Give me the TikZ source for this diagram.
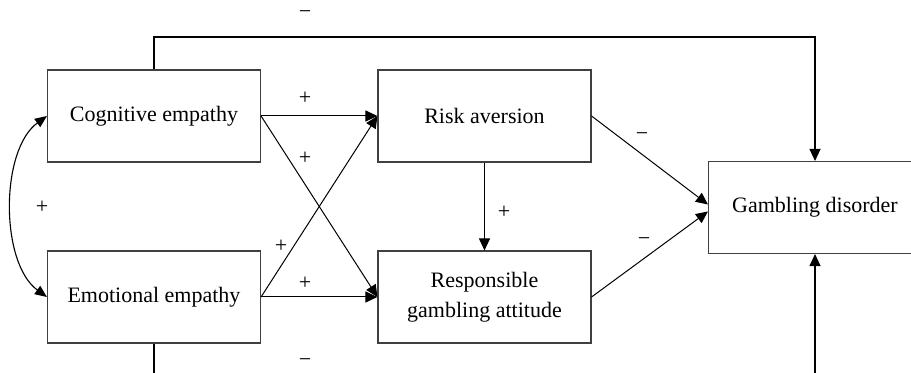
\documentclass[tikz,border=0pt]{standalone}
\usepackage{fontspec}
\setmainfont{Liberation Serif}
\usetikzlibrary{positioning,arrows.meta}

\begin{document}
\begin{tikzpicture}[
    x=0.5pt, y=-0.5pt,
    box/.style={rectangle, draw=black!75, line width=0.55pt, minimum width=106.5pt,
        minimum height=46pt, text centered, align=center,
        font=\fontsize{11}{15}\selectfont},
    sign/.style={inner sep=0pt, font=\fontsize{11}{13}\selectfont},
    path/.style={draw, line width=0.5pt, -{Triangle[length=6pt,width=5.5pt]}},
    link/.style={draw, line width=0.55pt}
]
\useasboundingbox (0,0) rectangle (911,373);

% boxes
\node [box] (cog) at (154,116) {Cognitive empathy};
\node [box] (emo) at (154,297) {Emotional empathy};
\node [box] (risk) at (484.5,116) {Risk aversion};
\node [box] (resp) at (484.5,297) {Responsible\\gambling attitude};
\node [box] (gd) at (815,207.5) {Gambling disorder};

% paths
\draw [path] (cog.east) -- (risk.west);
\draw [path] (cog.east) -- (resp.west);
\draw [path] (emo.east) -- (risk.west);
\draw [path] (emo.east) -- (resp.west);
\draw [path] (risk.south) -- (resp.north);
\draw [path] (risk.east) -- ([yshift=1.5pt]gd.west);
\draw [path] (resp.east) -- ([yshift=-2pt]gd.west);
\draw [link, {Triangle[length=6pt,width=5pt]}-{Triangle[length=6pt,width=5pt]}]
    (cog.west) .. controls (0,150) and (0,263) .. (emo.west);
\draw [link, -{Triangle[length=6pt,width=5.5pt]}] (cog.north) |- (815,37) -- (gd.north);
\draw [link, -{Triangle[length=6pt,width=5.5pt]}] (emo.south) |- (815,400) -- (gd.south);

% signs
\node [sign] (s1) at (305,15) {−};
\node [sign] (s2) at (305,98) {+};
\node [sign] (s3) at (305,158) {+};
\node [sign] (s4) at (42,207) {+};
\node [sign] (s5) at (281,246) {+};
\node [sign] (s6) at (305,283) {+};
\node [sign] (s7) at (305,363) {−};
\node [sign] (s8) at (504,212) {+};
\node [sign] (s9) at (642,137) {−};
\node [sign] (s10) at (644,242) {−};

\end{tikzpicture}
\end{document}
